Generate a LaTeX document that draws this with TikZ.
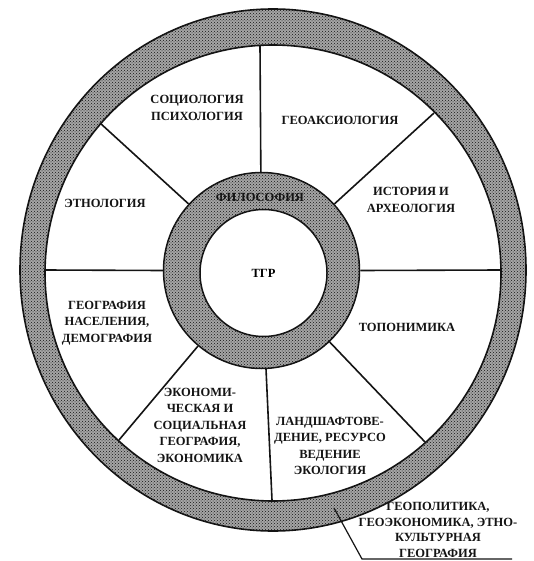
\documentclass[tikz,border=0pt]{standalone}
\usepackage{fontspec}
\setmainfont{Liberation Serif}
\usepackage{tikz}
\usetikzlibrary{positioning,patterns}
\definecolor{stipGray}{RGB}{165,165,165}
\definecolor{inkBlack}{RGB}{20,20,20}

\begin{document}
\begin{tikzpicture}[
  x=1pt,y=-1pt,
  ring/.style={fill=stipGray,even odd rule},
  dots/.style={pattern=crosshatch dots,pattern color=inkBlack,even odd rule},
  hub/.style={circle,draw=inkBlack,line width=1.5pt,minimum size=196pt,inner sep=0pt,preaction={fill=stipGray},pattern=crosshatch dots,pattern color=inkBlack},
  core/.style={circle,draw=inkBlack,line width=1.5pt,fill=white,minimum size=127pt,inner sep=0pt,font=\bfseries\fontsize{12.5}{15}\selectfont},
  spoke/.style={draw=inkBlack,line width=1.6pt},
  leader/.style={draw=inkBlack,line width=1.2pt},
  lbl/.style={align=center,inner sep=0pt,text=inkBlack,font=\bfseries\fontsize{12.5}{16.5}\selectfont}
]
  \useasboundingbox (0,0) rectangle (534,561);
  \clip (0,0) rectangle (534,561);
  \fill[white] (0,0) rectangle (534,561);

  % outer ring
  \fill[ring] (273,270) ellipse [x radius=253pt,y radius=261pt] (273,273) circle [radius=228pt];
  \fill[dots] (273,270) ellipse [x radius=253pt,y radius=261pt] (273,273) circle [radius=228pt];
  \draw[spoke] (273,270) ellipse [x radius=253pt,y radius=261pt];
  \draw[spoke] (273,273) circle [radius=228pt];

  % hub and core
  \node[hub] (hub) at (261.5,270.5) {};
  \node[core] (core) at (263.5,273) {ТГР};
  \node[lbl] (philo) at (260,197) {ФИЛОСОФИЯ};

  % rim points
  \coordinate (rimT) at (260,46);
  \coordinate (rimUL) at (100,123);
  \coordinate (rimUR) at (434,113);
  \coordinate (rimL) at (45,270);
  \coordinate (rimR) at (501,270);
  \coordinate (rimLL) at (119,440);
  \coordinate (rimLR) at (425,442);
  \coordinate (rimB) at (272,500);

  \draw[spoke] (hub) -- (rimT);
  \draw[spoke] (hub) -- (rimUL);
  \draw[spoke] (hub) -- (rimUR);
  \draw[spoke] (hub.west) -- (rimL);
  \draw[spoke] (hub.east) -- (rimR);
  \draw[spoke] (hub) -- (rimLL);
  \draw[spoke] (hub) -- (rimLR);
  \draw[spoke] (hub) -- (rimB);

  % sector labels
  \node[lbl] (soc) at (197,108) {СОЦИОЛОГИЯ\\ПСИХОЛОГИЯ};
  \node[lbl] (geoax) at (340,120) {ГЕОАКСИОЛОГИЯ};
  \node[lbl] (ethno) at (105,203) {ЭТНОЛОГИЯ};
  \node[lbl] (hist) at (411,200) {ИСТОРИЯ И\\АРХЕОЛОГИЯ};
  \node[lbl] (popgeo) at (107,323) {ГЕОГРАФИЯ\\НАСЕЛЕНИЯ,\\ДЕМОГРАФИЯ};
  \node[lbl] (topon) at (407,327) {ТОПОНИМИКА};
  \node[lbl] (econ) at (200,425) {ЭКОНОМИ-\\ЧЕСКАЯ И\\СОЦИАЛЬНАЯ\\ГЕОГРАФИЯ,\\ЭКОНОМИКА};
  \node[lbl] (land) at (330,446) {ЛАНДШАФТОВЕ-\\ДЕНИЕ, РЕСУРСО\\ВЕДЕНИЕ\\ЭКОЛОГИЯ};

  % outside label with leader
  \node[lbl,font=\bfseries\fontsize{12.5}{15.5}\selectfont] (geopol) at (438,530) {ГЕОПОЛИТИКА,\\ГЕОЭКОНОМИКА, ЭТНО-\\КУЛЬТУРНАЯ\\ГЕОГРАФИЯ};
  \coordinate (lead0) at (334,508);
  \coordinate (lead1) at (362,559);
  \coordinate (lead2) at (512,559);
  \draw[leader] (lead0) -- (lead1) -- (lead2);
\end{tikzpicture}
\end{document}
